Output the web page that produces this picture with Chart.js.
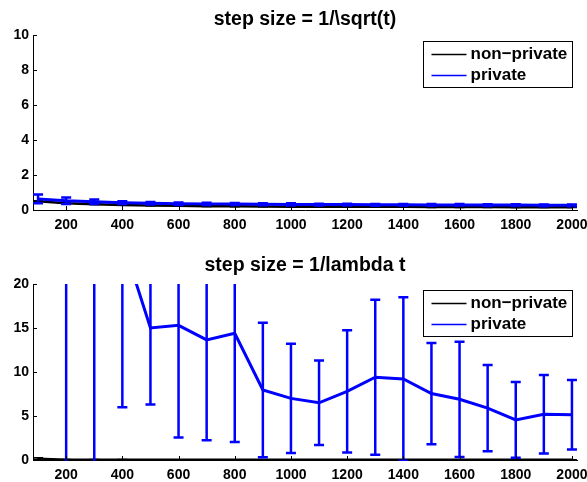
<!DOCTYPE html>
<html>
  <head>
    <script src="https://cdn.jsdelivr.net/npm/chart.js@4.4.1/dist/chart.umd.min.js"></script>
    <style>
      body { margin: 0; background: white; }
      #wrap { position: relative; width: 587px; height: 482px; }
      canvas { position: absolute; left: 0; }
      #top { top: 0; }
      #bottom { top: 241px; }
    </style>
  </head>
  <body>
    <div id="wrap">
      <canvas id="top" width="587" height="241"></canvas>
      <canvas id="bottom" width="587" height="241"></canvas>
    </div>
    <script>
      // iterations (x) and the tick labels
      const steps = [100, 200, 300, 400, 500, 600, 700, 800, 900, 1000,
                     1100, 1200, 1300, 1400, 1500, 1600, 1700, 1800, 1900, 2000];
      const xTicks = [200, 400, 600, 800, 1000, 1200, 1400, 1600, 1800, 2000];
      const seriesLabels = ["non\u2212private", "private"];

      // step size = 1/sqrt(t)
      const sqrtTitle = "step size = 1/\\sqrt(t)";
      const sqrtYTicks = [0, 2, 4, 6, 8, 10];
      const sqrtNonPrivate = [0.5, 0.38, 0.33, 0.29, 0.26, 0.24, 0.22, 0.21, 0.2, 0.19,
                              0.19, 0.18, 0.18, 0.18, 0.17, 0.17, 0.17, 0.16, 0.16, 0.16];
      const sqrtNonPrivateErr = [0.03, 0.02, 0.02, 0.02, 0.02, 0.02, 0.02, 0.02, 0.02, 0.02,
                                 0.02, 0.02, 0.02, 0.02, 0.02, 0.02, 0.02, 0.02, 0.02, 0.02];
      const sqrtPrivate = [0.63, 0.53, 0.47, 0.42, 0.39, 0.36, 0.35, 0.34, 0.33, 0.32,
                           0.31, 0.31, 0.3, 0.3, 0.29, 0.29, 0.28, 0.28, 0.27, 0.27];
      const sqrtPrivateErr = [0.25, 0.19, 0.13, 0.08, 0.07, 0.07, 0.06, 0.06, 0.06, 0.06,
                              0.05, 0.05, 0.05, 0.05, 0.05, 0.05, 0.05, 0.05, 0.05, 0.05];

      // step size = 1/lambda t
      const lambdaTitle = "step size = 1/lambda t";
      const lambdaYTicks = [0, 5, 10, 15, 20];
      const lambdaNonPrivate = [0.15, 0.04, 0.03, 0.03, 0.02, 0.02, 0.02, 0.02, 0.02, 0.02,
                                0.02, 0.02, 0.02, 0.02, 0.02, 0.02, 0.02, 0.02, 0.02, 0.02];
      const lambdaNonPrivateErr = [0.1, 0.03, 0.02, 0.02, 0.02, 0.02, 0.02, 0.02, 0.02, 0.02,
                                   0.02, 0.02, 0.02, 0.02, 0.02, 0.02, 0.02, 0.02, 0.02, 0.02];
      const lambdaPrivate = [80, 45, 33, 25, 15.0, 15.3, 13.65, 14.4, 7.95, 7.0,
                             6.5, 7.8, 9.4, 9.2, 7.55, 6.9, 5.9, 4.55, 5.2, 5.15];
      const lambdaPrivateErr = [50, 50, 40, 19, 8.7, 12.75, 11.4, 12.35, 7.65, 6.2,
                                4.8, 6.95, 8.8, 9.3, 5.75, 6.55, 4.9, 4.3, 4.45, 3.95];

      const FONT = "'Liberation Sans', Arial, Helvetica, sans-serif";

      const points = (ys) => ys.map((y, i) => ({ x: steps[i], y: y }));

      // vertical error bars with caps, drawn through the chart scales
      const errorBars = {
        id: "errorBars",
        afterDatasetDraw(chart, args) {
          const ds = chart.data.datasets[args.index];
          if (!ds.errors) return;
          const { ctx, chartArea: a, scales: { x, y } } = chart;
          ctx.save();
          ctx.beginPath();
          ctx.rect(a.left, a.top, a.right - a.left, a.bottom - a.top + 1);
          ctx.clip();
          ctx.strokeStyle = ds.borderColor;
          ctx.lineWidth = ds.errorWidth;
          ds.data.forEach((p, i) => {
            const e = ds.errors[i];
            const px = x.getPixelForValue(p.x);
            const lo = y.getPixelForValue(p.y - e);
            const hi = y.getPixelForValue(p.y + e);
            ctx.beginPath();
            ctx.moveTo(px, lo); ctx.lineTo(px, hi);
            ctx.moveTo(px - 5, lo); ctx.lineTo(px + 5, lo);
            ctx.moveTo(px - 5, hi); ctx.lineTo(px + 5, hi);
            ctx.stroke();
          });
          ctx.restore();
        },
      };

      // matlab style: title over the axes, inward ticks, boxed legend at top right
      const matlabBits = {
        id: "matlabBits",
        afterDraw(chart, args, opts) {
          const { ctx, chartArea: a, scales: { x, y } } = chart;
          ctx.save();
          ctx.fillStyle = "#000";
          ctx.font = "bold 19.5px " + FONT;
          ctx.textAlign = "center";
          ctx.textBaseline = "middle";
          ctx.fillText(opts.title, (a.left + a.right) / 2, opts.titleY);

          ctx.strokeStyle = "#000";
          ctx.lineWidth = 1;
          ctx.beginPath();
          x.ticks.forEach((t) => {
            const px = Math.round(x.getPixelForValue(t.value)) + 0.5;
            ctx.moveTo(px, a.bottom); ctx.lineTo(px, a.bottom - 4);
          });
          y.ticks.forEach((t) => {
            const py = Math.round(y.getPixelForValue(t.value)) + 0.5;
            ctx.moveTo(a.left, py); ctx.lineTo(a.left + 4, py);
          });
          ctx.stroke();

          const bw = 149, bh = 46;
          const bx = Math.round(a.right - 5 - bw) + 0.5;
          const by = Math.round(a.top + 6) + 0.5;
          ctx.fillStyle = "#fff";
          ctx.fillRect(bx, by, bw, bh);
          ctx.strokeRect(bx, by, bw, bh);
          ctx.font = "bold 17px " + FONT;
          ctx.textAlign = "left";
          chart.data.datasets.forEach((ds, i) => {
            const cy = by + 13 + i * 21;
            ctx.strokeStyle = ds.borderColor;
            ctx.lineWidth = 1.5;
            ctx.beginPath();
            ctx.moveTo(bx + 8, cy); ctx.lineTo(bx + 43, cy);
            ctx.stroke();
            ctx.fillStyle = "#000";
            ctx.fillText(ds.label, bx + 47, cy);
          });
          ctx.restore();
        },
      };

      function makeChart(id, title, yTicks, nonPriv, nonPrivErr, priv, privErr, opts) {
        const tickFont = { family: FONT, size: 14, weight: "bold" };
        return new Chart(document.getElementById(id), {
          type: "line",
          data: {
            datasets: [
              {
                label: seriesLabels[0],
                data: points(nonPriv),
                errors: nonPrivErr,
                borderColor: "#000000",
                borderWidth: 2.5,
                errorWidth: 1.5,
                pointRadius: 0,
                tension: 0,
                order: 1,
                clip: { left: 0, right: 0, top: 0, bottom: 3 },
              },
              {
                label: seriesLabels[1],
                data: points(priv),
                errors: privErr,
                borderColor: "#0000ff",
                borderWidth: 3,
                errorWidth: 2.5,
                pointRadius: 0,
                tension: 0,
                order: 0,
                clip: { left: 0, right: 0, top: 0, bottom: 3 },
              },
            ],
          },
          options: {
            responsive: false,
            animation: false,
            devicePixelRatio: 1,
            events: [],
            layout: { padding: { left: 0, right: 10, top: opts.top, bottom: 0 } },
            plugins: {
              legend: { display: false },
              tooltip: { enabled: false },
              title: { display: false },
              matlabBits: { title: title, titleY: opts.titleY },
            },
            scales: {
              x: {
                type: "linear",
                min: 82,
                max: 2018,
                afterBuildTicks: (s) => { s.ticks = xTicks.map((v) => ({ value: v })); },
                afterFit: (s) => { s.height = opts.xHeight; s.paddingLeft = 0; s.paddingRight = 0; },
                grid: { display: false, drawTicks: false },
                border: { display: true, color: "#000", width: 1 },
                ticks: {
                  font: tickFont, color: "#000", padding: 7, maxRotation: 0, autoSkip: false,
                  callback: (v) => String(v),
                },
              },
              y: {
                type: "linear",
                min: yTicks[0],
                max: yTicks[yTicks.length - 1],
                afterBuildTicks: (s) => { s.ticks = yTicks.map((v) => ({ value: v })); },
                afterFit: (s) => { s.width = 33; s.paddingTop = 0; s.paddingBottom = 0; },
                grid: { display: false, drawTicks: false },
                border: { display: true, color: "#000", width: 1 },
                ticks: { font: tickFont, color: "#000", padding: 4, callback: (v) => String(v) },
              },
            },
          },
          plugins: [errorBars, matlabBits],
        });
      }

      makeChart("top", sqrtTitle, sqrtYTicks, sqrtNonPrivate, sqrtNonPrivateErr,
                sqrtPrivate, sqrtPrivateErr, { top: 35, titleY: 19.5, xHeight: 31 });
      makeChart("bottom", lambdaTitle, lambdaYTicks, lambdaNonPrivate, lambdaNonPrivateErr,
                lambdaPrivate, lambdaPrivateErr, { top: 43, titleY: 25, xHeight: 22 });
    </script>
  </body>
</html>
